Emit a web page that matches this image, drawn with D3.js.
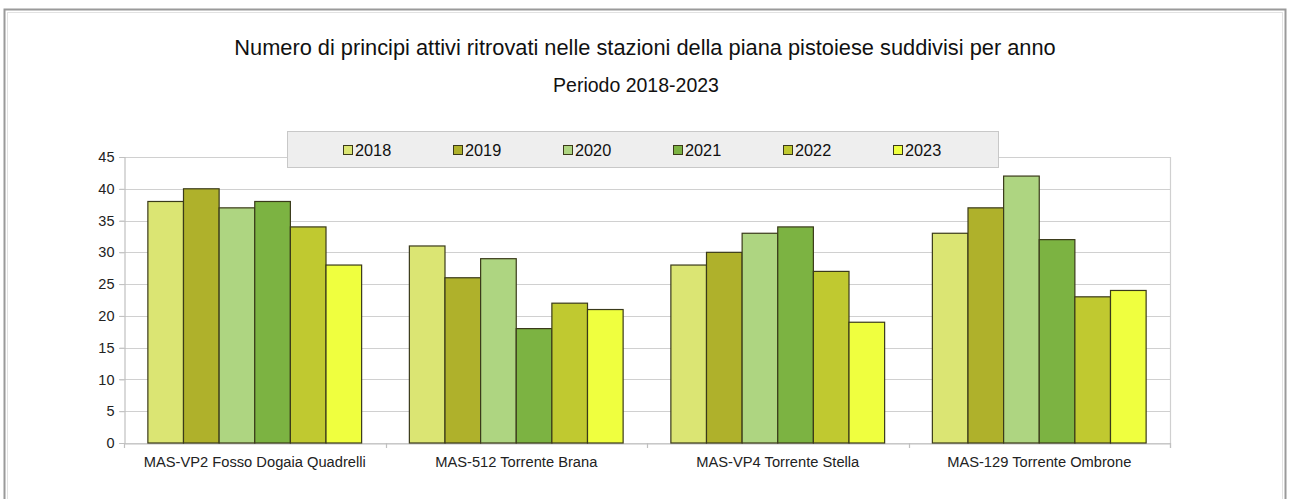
<!DOCTYPE html>
<html>
<head>
<meta charset="UTF-8">
<title>Principi attivi</title>
<script src="https://cdn.jsdelivr.net/npm/d3@7"></script>
<style>
html, body { margin: 0; padding: 0; background: #fff; }
svg { font-family: 'Liberation Sans', Arial, sans-serif; display: block; }
</style>
</head>
<body>
<script>
// dati
var stazioni = ["MAS-VP2 Fosso Dogaia Quadrelli", "MAS-512 Torrente Brana", "MAS-VP4 Torrente Stella", "MAS-129 Torrente Ombrone"];
var anni = ["2018", "2019", "2020", "2021", "2022", "2023"];
var v2018 = [38, 31, 28, 33];
var v2019 = [40, 26, 30, 37];
var v2020 = [37, 29, 33, 42];
var v2021 = [38, 18, 34, 32];
var v2022 = [34, 22, 27, 23];
var v2023 = [28, 21, 19, 24];
var yTicks = [0, 5, 10, 15, 20, 25, 30, 35, 40, 45];
var colori = ["#dbe573", "#afb12b", "#aed581", "#7cb342", "#c0c930", "#efff3f"];

var serie = [v2018, v2019, v2020, v2021, v2022, v2023];

var width = 1290, height = 499;
var svg = d3.select("body").append("svg")
    .attr("width", width)
    .attr("height", height);

// cornice
svg.append("rect")
    .attr("x", 4.5).attr("y", 9.5)
    .attr("width", 1281).attr("height", 500)
    .attr("fill", "none").attr("stroke", "#9a9a9a").attr("stroke-width", 2);
svg.append("rect")
    .attr("x", 7.5).attr("y", 12.5)
    .attr("width", 1275).attr("height", 500)
    .attr("fill", "none").attr("stroke", "#e2e2e2").attr("stroke-width", 1);

// titoli
svg.append("text")
    .attr("x", 645).attr("y", 55)
    .attr("text-anchor", "middle")
    .attr("font-size", 21.8)
    .attr("fill", "#111")
    .text("Numero di principi attivi ritrovati nelle stazioni della piana pistoiese suddivisi per anno");
svg.append("text")
    .attr("x", 636).attr("y", 92)
    .attr("text-anchor", "middle")
    .attr("font-size", 19.5)
    .attr("fill", "#111")
    .text("Periodo 2018-2023");

var margin = {left: 124, right: 1170, top: 157, bottom: 443};

var x0 = d3.scaleBand().domain(stazioni).range([margin.left, margin.right]);
var x1 = d3.scaleBand().domain(anni).range([0, x0.bandwidth()]).paddingOuter(0.67);
var y = d3.scaleLinear().domain([0, 45]).range([margin.bottom, margin.top]);

// griglia
svg.append("g")
    .selectAll("line")
    .data(yTicks)
    .join("line")
    .attr("x1", margin.left - 5).attr("x2", margin.right)
    .attr("y1", function(d) { return Math.round(y(d)) + 0.5; })
    .attr("y2", function(d) { return Math.round(y(d)) + 0.5; })
    .attr("stroke", "#d0d0d0").attr("stroke-width", 1.2);

// bordo destro del piano
svg.append("line")
    .attr("x1", margin.right + 0.5).attr("x2", margin.right + 0.5)
    .attr("y1", margin.top).attr("y2", margin.bottom + 5)
    .attr("stroke", "#d0d0d0").attr("stroke-width", 1.2);

// asse y
var yAxis = svg.append("g")
    .attr("transform", "translate(" + (margin.left + 0.5) + ",0)")
    .call(d3.axisLeft(y).tickValues(yTicks).tickSize(5).tickPadding(5));
yAxis.select(".domain").attr("stroke", "#c0c0c0").attr("stroke-width", 1.2);
yAxis.selectAll(".tick line").attr("stroke", "#c0c0c0");
yAxis.selectAll("text")
    .attr("font-family", "'Liberation Sans', Arial, sans-serif")
    .attr("font-size", 14.5).attr("fill", "#222");

// asse x
var xAxis = svg.append("g")
    .attr("transform", "translate(0," + (margin.bottom + 0.5) + ")")
    .call(d3.axisBottom(x0).tickSize(0).tickPadding(13));
xAxis.select(".domain").attr("stroke", "#c0c0c0").attr("stroke-width", 1.2);
xAxis.selectAll("text")
    .attr("font-family", "'Liberation Sans', Arial, sans-serif")
    .attr("font-size", 14.7).attr("fill", "#222");
// tacche tra le categorie
svg.append("g")
    .selectAll("line")
    .data(stazioni.concat(["fine"]))
    .join("line")
    .attr("x1", function(d, i) { return Math.round(margin.left + i * x0.bandwidth()) + 0.5; })
    .attr("x2", function(d, i) { return Math.round(margin.left + i * x0.bandwidth()) + 0.5; })
    .attr("y1", margin.bottom).attr("y2", margin.bottom + 5)
    .attr("stroke", "#c0c0c0").attr("stroke-width", 1.2);

// barre
var gruppi = svg.append("g")
    .selectAll("g")
    .data(stazioni)
    .join("g")
    .attr("transform", function(d) { return "translate(" + x0(d) + ",0)"; });

gruppi.selectAll("rect")
    .data(function(d, i) { return anni.map(function(a, j) { return {anno: a, j: j, v: serie[j][i]}; }); })
    .join("rect")
    .attr("x", function(d) { return x1(d.anno); })
    .attr("y", function(d) { return y(d.v); })
    .attr("width", x1.bandwidth())
    .attr("height", function(d) { return y(0) - y(d.v); })
    .attr("fill", function(d) { return colori[d.j]; })
    .attr("stroke", "#3a3a1a").attr("stroke-width", 1.2);

// legenda
var leg = svg.append("g");
leg.append("rect")
    .attr("x", 287.5).attr("y", 131.5)
    .attr("width", 711).attr("height", 36)
    .attr("fill", "#eeeeee").attr("stroke", "#c8c8c8").attr("stroke-width", 1);

var voci = leg.selectAll("g.voce")
    .data(anni)
    .join("g")
    .attr("class", "voce")
    .attr("transform", function(d, i) { return "translate(" + (343 + i * 110) + ",145)"; });
voci.append("rect")
    .attr("x", 0.5).attr("y", 0.5)
    .attr("width", 9).attr("height", 9)
    .attr("fill", function(d, i) { return colori[i]; })
    .attr("stroke", "#3a3a1a").attr("stroke-width", 1);
voci.append("text")
    .attr("x", 12).attr("y", 11)
    .attr("font-size", 16.3).attr("fill", "#111")
    .text(function(d) { return d; });
</script>
</body>
</html>
